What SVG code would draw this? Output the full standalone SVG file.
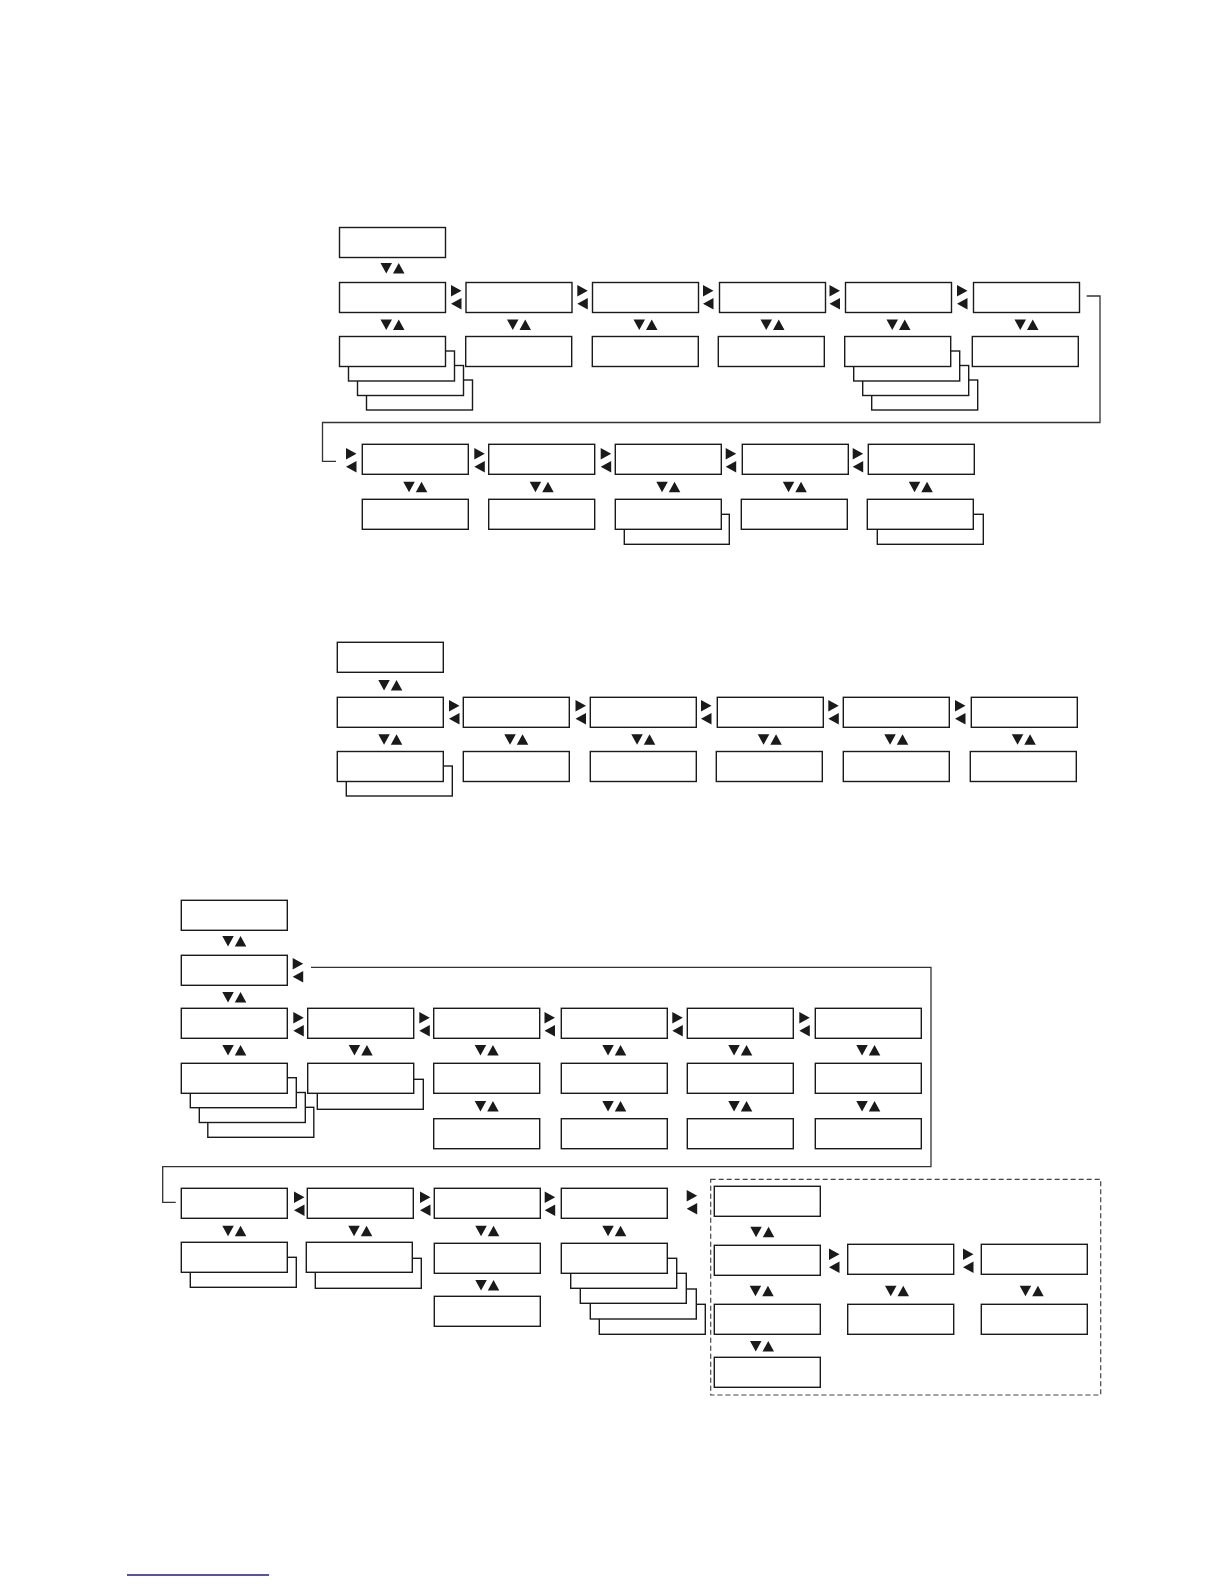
<svg xmlns="http://www.w3.org/2000/svg" width="1224" height="1584" viewBox="0 0 1224 1584">
<style>
.b{fill:#fff;stroke:#1a1a1a;stroke-width:1.4}
.ln{fill:none;stroke:#333;stroke-width:1.3}
.dash{fill:none;stroke:#444;stroke-width:1.2;stroke-dasharray:5 3}
.g{fill:#1a1a1a}
</style>
<defs>
<path id="ud" d="M-12,0h11.5l-5.75,10.5z M0.5,10.5h11.5l-5.75,-10.5z"/>
<path id="lr" d="M0,0l10.5,5.75l-10.5,5.75z M10.5,13v11.5l-10.5,-5.75z"/>
</defs>
<rect width="1224" height="1584" fill="#fff"/>

<!-- ================= Section 1 ================= -->
<g id="s1-top"><rect class="b" x="339.5" y="227.5" width="106" height="30"/></g>
<g id="s1-r1c1"><rect class="b" x="339.5" y="282.5" width="106" height="30"/></g>
<g id="s1-r1c2"><rect class="b" x="466" y="282.5" width="106" height="30"/></g>
<g id="s1-r1c3"><rect class="b" x="592.5" y="282.5" width="106" height="30"/></g>
<g id="s1-r1c4"><rect class="b" x="719.5" y="282.5" width="106" height="30"/></g>
<g id="s1-r1c5"><rect class="b" x="845.5" y="282.5" width="106" height="30"/></g>
<g id="s1-r1c6"><rect class="b" x="973.5" y="282.5" width="106" height="30"/></g>

<g id="s1-r2c1">
<rect class="b" x="366.5" y="380" width="106" height="30"/>
<rect class="b" x="357.5" y="365.5" width="106" height="30"/>
<rect class="b" x="348.5" y="351" width="106" height="30"/>
<rect class="b" x="339.5" y="336.5" width="106" height="30"/>
</g>
<g id="s1-r2c2"><rect class="b" x="465.7" y="336.5" width="106" height="30"/></g>
<g id="s1-r2c3"><rect class="b" x="592.3" y="336.5" width="106" height="30"/></g>
<g id="s1-r2c4"><rect class="b" x="718.3" y="336.5" width="106" height="30"/></g>
<g id="s1-r2c5">
<rect class="b" x="871.7" y="380" width="106" height="30"/>
<rect class="b" x="862.7" y="365.5" width="106" height="30"/>
<rect class="b" x="853.7" y="351" width="106" height="30"/>
<rect class="b" x="844.7" y="336.5" width="106" height="30"/>
</g>
<g id="s1-r2c6"><rect class="b" x="972.3" y="336.5" width="106" height="30"/></g>

<g id="s1-r3c1"><rect class="b" x="362.3" y="444.3" width="106" height="30"/></g>
<g id="s1-r3c2"><rect class="b" x="488.7" y="444.3" width="106" height="30"/></g>
<g id="s1-r3c3"><rect class="b" x="615.3" y="444.3" width="106" height="30"/></g>
<g id="s1-r3c4"><rect class="b" x="742.3" y="444.3" width="106" height="30"/></g>
<g id="s1-r3c5"><rect class="b" x="868.3" y="444.3" width="106" height="30"/></g>

<g id="s1-r4c1"><rect class="b" x="362.3" y="499.3" width="106" height="30"/></g>
<g id="s1-r4c2"><rect class="b" x="488.7" y="499.3" width="106" height="30"/></g>
<g id="s1-r4c3">
<rect class="b" x="624.3" y="514.3" width="105" height="30"/>
<rect class="b" x="615.3" y="499.3" width="106" height="30"/>
</g>
<g id="s1-r4c4"><rect class="b" x="741.3" y="499.3" width="106" height="30"/></g>
<g id="s1-r4c5">
<rect class="b" x="877.3" y="514.3" width="106" height="30"/>
<rect class="b" x="867.3" y="499.3" width="106" height="30"/>
</g>

<!-- ================= Section 2 ================= -->
<g id="s2-top"><rect class="b" x="337.3" y="642.3" width="106" height="30"/></g>
<g id="s2-r1c1"><rect class="b" x="337.3" y="697.3" width="106" height="30"/></g>
<g id="s2-r1c2"><rect class="b" x="463.3" y="697.3" width="106" height="30"/></g>
<g id="s2-r1c3"><rect class="b" x="590.3" y="697.3" width="106" height="30"/></g>
<g id="s2-r1c4"><rect class="b" x="717.3" y="697.3" width="106" height="30"/></g>
<g id="s2-r1c5"><rect class="b" x="843.3" y="697.3" width="106" height="30"/></g>
<g id="s2-r1c6"><rect class="b" x="971.3" y="697.3" width="106" height="30"/></g>
<g id="s2-r2c1">
<rect class="b" x="346.3" y="766" width="106" height="30"/>
<rect class="b" x="337.3" y="751.5" width="106" height="30"/>
</g>
<g id="s2-r2c2"><rect class="b" x="463.3" y="751.5" width="106" height="30"/></g>
<g id="s2-r2c3"><rect class="b" x="590.3" y="751.5" width="106" height="30"/></g>
<g id="s2-r2c4"><rect class="b" x="716.3" y="751.5" width="106" height="30"/></g>
<g id="s2-r2c5"><rect class="b" x="843.3" y="751.5" width="106" height="30"/></g>
<g id="s2-r2c6"><rect class="b" x="970.3" y="751.5" width="106" height="30"/></g>

<!-- ================= Section 3 ================= -->
<g id="s3-top"><rect class="b" x="181.3" y="900.3" width="106" height="30"/></g>
<g id="s3-sub"><rect class="b" x="181.3" y="955.3" width="106" height="30"/></g>
<g id="s3-r1c1"><rect class="b" x="181.3" y="1008.3" width="106" height="30"/></g>
<g id="s3-r1c2"><rect class="b" x="307.7" y="1008.3" width="106" height="30"/></g>
<g id="s3-r1c3"><rect class="b" x="433.7" y="1008.3" width="106" height="30"/></g>
<g id="s3-r1c4"><rect class="b" x="561.3" y="1008.3" width="106" height="30"/></g>
<g id="s3-r1c5"><rect class="b" x="687.3" y="1008.3" width="106" height="30"/></g>
<g id="s3-r1c6"><rect class="b" x="815.3" y="1008.3" width="106" height="30"/></g>

<g id="s3-r2c1">
<rect class="b" x="207.8" y="1107.3" width="106" height="30"/>
<rect class="b" x="199.3" y="1092.5" width="106" height="30"/>
<rect class="b" x="190.3" y="1077.7" width="106" height="30"/>
<rect class="b" x="181.3" y="1063.3" width="106" height="30"/>
</g>
<g id="s3-r2c2">
<rect class="b" x="317.3" y="1079.3" width="106" height="30"/>
<rect class="b" x="307.7" y="1063.3" width="106" height="30"/>
</g>
<g id="s3-r2c3"><rect class="b" x="433.7" y="1063.3" width="106" height="30"/></g>
<g id="s3-r2c4"><rect class="b" x="561.3" y="1063.3" width="106" height="30"/></g>
<g id="s3-r2c5"><rect class="b" x="687.3" y="1063.3" width="106" height="30"/></g>
<g id="s3-r2c6"><rect class="b" x="815.3" y="1063.3" width="106" height="30"/></g>

<g id="s3-r3c3"><rect class="b" x="433.7" y="1118.7" width="106" height="30"/></g>
<g id="s3-r3c4"><rect class="b" x="561.3" y="1118.7" width="106" height="30"/></g>
<g id="s3-r3c5"><rect class="b" x="687.3" y="1118.7" width="106" height="30"/></g>
<g id="s3-r3c6"><rect class="b" x="815.3" y="1118.7" width="106" height="30"/></g>

<g id="s3-r4c1"><rect class="b" x="181.3" y="1188.3" width="106" height="30"/></g>
<g id="s3-r4c2"><rect class="b" x="307.3" y="1188.3" width="106" height="30"/></g>
<g id="s3-r4c3"><rect class="b" x="434.3" y="1188.3" width="106" height="30"/></g>
<g id="s3-r4c4"><rect class="b" x="561.3" y="1188.3" width="106" height="30"/></g>

<g id="s3-r5c1">
<rect class="b" x="190.3" y="1257.3" width="106" height="30"/>
<rect class="b" x="181.3" y="1242.3" width="106" height="30"/>
</g>
<g id="s3-r5c2">
<rect class="b" x="315.3" y="1258.3" width="106" height="30"/>
<rect class="b" x="306.3" y="1242.3" width="106" height="30"/>
</g>
<g id="s3-r5c3"><rect class="b" x="434.3" y="1243.3" width="106" height="30"/></g>
<g id="s3-r5c4">
<rect class="b" x="599.3" y="1304.3" width="106" height="30"/>
<rect class="b" x="590.3" y="1289" width="106" height="30"/>
<rect class="b" x="580.3" y="1273.3" width="106" height="30"/>
<rect class="b" x="570.7" y="1258.3" width="106" height="30"/>
<rect class="b" x="561.3" y="1243.3" width="106" height="30"/>
</g>
<g id="s3-r6c3"><rect class="b" x="434.3" y="1296.3" width="106" height="30"/></g>

<g id="s3-group">
<rect class="dash" x="710.7" y="1179.3" width="390" height="215.7"/>
</g>
<g id="s3-gA"><rect class="b" x="714.3" y="1186.3" width="106" height="30"/></g>
<g id="s3-gB"><rect class="b" x="714.3" y="1245.3" width="106" height="30"/></g>
<g id="s3-gE"><rect class="b" x="847.7" y="1244.3" width="106" height="30"/></g>
<g id="s3-gF"><rect class="b" x="981.3" y="1244.3" width="106" height="30"/></g>
<g id="s3-gC"><rect class="b" x="714.3" y="1304.3" width="106" height="30"/></g>
<g id="s3-gG"><rect class="b" x="847.7" y="1304.3" width="106" height="30"/></g>
<g id="s3-gH"><rect class="b" x="981.3" y="1304.3" width="106" height="30"/></g>
<g id="s3-gD"><rect class="b" x="714.3" y="1357.3" width="106" height="30"/></g>

<!-- ================= Connectors ================= -->
<g id="connectors">
<path class="ln" d="M1086.7,296H1100V422.5H322.5V461.3H336"/>
<path class="ln" d="M311,967.3H931V1166.7H162.7V1202.3H175.7"/>

<g class="g">
<!-- section 1 -->
<use href="#ud" x="392.5" y="263"/>
<use href="#lr" x="451" y="285"/>
<use href="#lr" x="577.3" y="285"/>
<use href="#lr" x="703" y="285"/>
<use href="#lr" x="829.5" y="285"/>
<use href="#lr" x="957" y="285"/>
<use href="#ud" x="392.5" y="319.5"/>
<use href="#ud" x="519" y="319.5"/>
<use href="#ud" x="645.5" y="319.5"/>
<use href="#ud" x="772.5" y="319.5"/>
<use href="#ud" x="898.5" y="319.5"/>
<use href="#ud" x="1026.5" y="319.5"/>
<use href="#lr" x="346" y="448"/>
<use href="#lr" x="474.3" y="448"/>
<use href="#lr" x="600.7" y="448"/>
<use href="#lr" x="725.7" y="448"/>
<use href="#lr" x="852.7" y="448"/>
<use href="#ud" x="415.3" y="481.7"/>
<use href="#ud" x="541.7" y="481.7"/>
<use href="#ud" x="668.3" y="481.7"/>
<use href="#ud" x="794.8" y="481.7"/>
<use href="#ud" x="920.8" y="481.7"/>
<!-- section 2 -->
<use href="#ud" x="390.3" y="680"/>
<use href="#lr" x="449" y="700"/>
<use href="#lr" x="575.5" y="700"/>
<use href="#lr" x="701" y="700"/>
<use href="#lr" x="828.3" y="700"/>
<use href="#lr" x="955" y="700"/>
<use href="#ud" x="390.3" y="734.3"/>
<use href="#ud" x="516.3" y="734.3"/>
<use href="#ud" x="643.3" y="734.3"/>
<use href="#ud" x="769.8" y="734.3"/>
<use href="#ud" x="896.3" y="734.3"/>
<use href="#ud" x="1023.8" y="734.3"/>
<!-- section 3 -->
<use href="#ud" x="234.3" y="936"/>
<use href="#lr" x="292.7" y="958"/>
<use href="#ud" x="234.3" y="992"/>
<use href="#lr" x="293.3" y="1012"/>
<use href="#lr" x="419.3" y="1012"/>
<use href="#lr" x="544.5" y="1012"/>
<use href="#lr" x="672.3" y="1012"/>
<use href="#lr" x="799.3" y="1012"/>
<use href="#ud" x="234.3" y="1045"/>
<use href="#ud" x="360.7" y="1045"/>
<use href="#ud" x="486.7" y="1045"/>
<use href="#ud" x="614.3" y="1045"/>
<use href="#ud" x="740.3" y="1045"/>
<use href="#ud" x="868.3" y="1045"/>
<use href="#ud" x="486.7" y="1101"/>
<use href="#ud" x="614.3" y="1101"/>
<use href="#ud" x="740.3" y="1101"/>
<use href="#ud" x="868.3" y="1101"/>
<use href="#lr" x="294" y="1191.5"/>
<use href="#lr" x="420" y="1191.5"/>
<use href="#lr" x="544.7" y="1191.5"/>
<use href="#lr" x="686.7" y="1190"/>
<use href="#ud" x="234.3" y="1225.7"/>
<use href="#ud" x="360.3" y="1225.7"/>
<use href="#ud" x="487.3" y="1225.7"/>
<use href="#ud" x="614.3" y="1225.7"/>
<use href="#ud" x="487.3" y="1280"/>
<!-- dashed group -->
<use href="#ud" x="762.3" y="1226.7"/>
<use href="#lr" x="829" y="1248.5"/>
<use href="#lr" x="963" y="1248.5"/>
<use href="#ud" x="761.7" y="1285.7"/>
<use href="#ud" x="897" y="1285.7"/>
<use href="#ud" x="1031.7" y="1285.7"/>
<use href="#ud" x="762" y="1341"/>
</g>
</g>

<line x1="127" y1="1575" x2="269" y2="1575" stroke="#1a1a8c" stroke-width="1.5"/>
</svg>
